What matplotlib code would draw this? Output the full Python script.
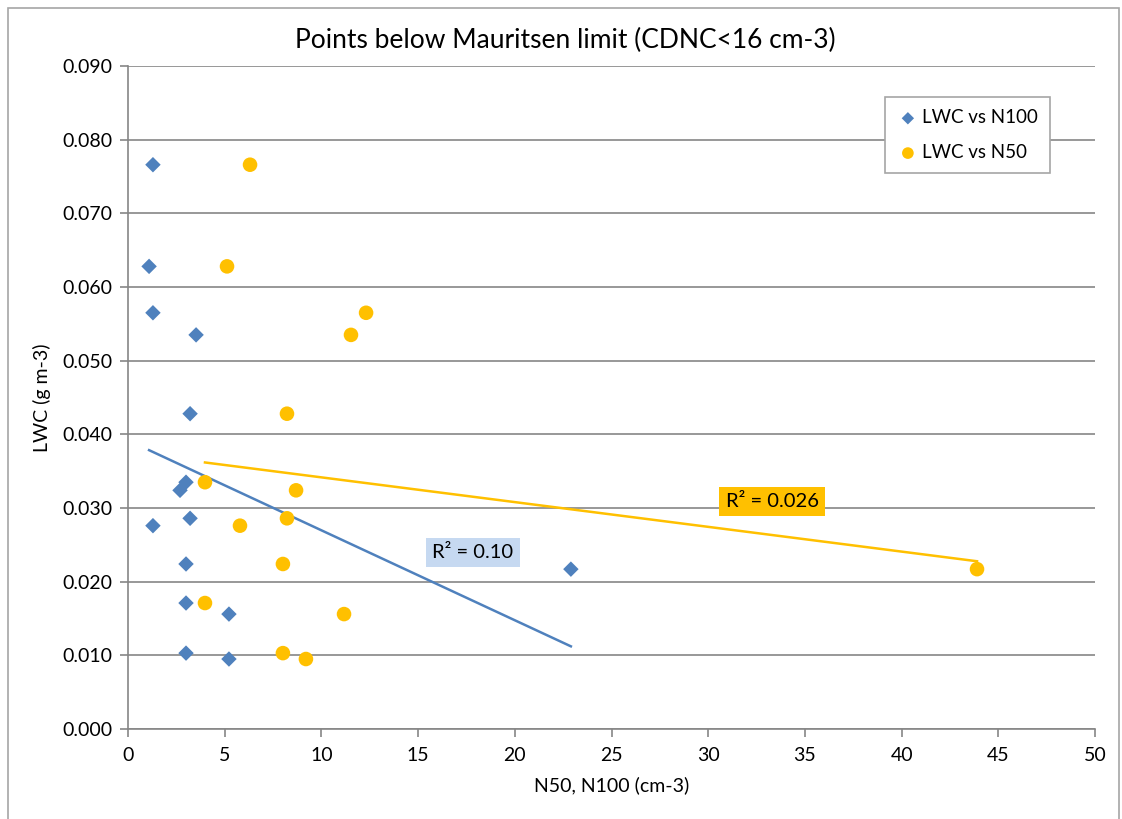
import numpy as np
import matplotlib
matplotlib.use("Agg")
import matplotlib.pyplot as plt
from matplotlib.patches import Rectangle

plt.rcParams['font.family'] = ['Lato', 'DejaVu Sans']

# LWC (g m-3) against aerosol number concentrations (cm-3)
lwc = [0.0766, 0.0628, 0.0565, 0.0535, 0.0428, 0.0335, 0.0324, 0.0286,
       0.0276, 0.0224, 0.0171, 0.0156, 0.0103, 0.0095, 0.0217]
n100 = [1.29, 1.09, 1.29, 3.52, 3.21, 3.00, 2.69, 3.21,
        1.29, 3.00, 3.00, 5.22, 3.00, 5.22, 22.9]
n50 = [6.31, 5.12, 12.31, 11.53, 8.22, 3.98, 8.69, 8.22,
       5.79, 8.01, 3.98, 11.17, 8.01, 9.20, 43.9]

r2_n100 = "0.10"
r2_n50 = "0.026"

BLUE = "#4F81BD"
GOLD = "#FFC000"
GRID = "#868686"

fig = plt.figure(figsize=(11.22, 8.19), dpi=100)
ax = fig.add_axes([128 / 1122, 1 - 729 / 819, (1095 - 128) / 1122, (729 - 66) / 819])

# chart frame
fig.patches.append(Rectangle((8 / 1122, -0.01), (1119 - 8) / 1122, 1 - 8 / 819 + 0.01,
                             transform=fig.transFigure, fill=False,
                             edgecolor="#A6A6A6", linewidth=1.2, zorder=0))

ax.scatter(n100, lwc, marker="D", s=62, color=BLUE, edgecolors="none",
           zorder=3, label="LWC vs N100")
ax.scatter(n50, lwc, marker="o", s=110, color=GOLD, edgecolors="none",
           zorder=3, label="LWC vs N50")

# least-squares trendlines spanning each series
for xs, col in ((n100, BLUE), (n50, GOLD)):
    xs = np.asarray(xs)
    k, b = np.polyfit(xs, lwc, 1)
    xx = np.array([xs.min(), xs.max()])
    ax.plot(xx, k * xx + b, color=col, linewidth=1.8, zorder=2)

ax.text(17.84, 0.0239, "R\u00b2 = " + r2_n100, fontsize=14.5, ha="center", va="center",
        bbox=dict(boxstyle="square,pad=0.3", facecolor="#C6D9F1", edgecolor="none"), zorder=4)
ax.text(33.3, 0.0309, "R\u00b2 = " + r2_n50, fontsize=14.5, ha="center", va="center",
        bbox=dict(boxstyle="square,pad=0.3", facecolor=GOLD, edgecolor="none"), zorder=4)

ax.set_xlim(0, 50)
ax.set_ylim(0, 0.09)
ax.set_xticks(np.arange(0, 51, 5))
ax.set_yticks(np.arange(0, 0.0901, 0.01))
ax.set_yticklabels([f"{v:.3f}" for v in np.arange(0, 0.0901, 0.01)])
ax.yaxis.grid(True, color=GRID, linewidth=1.2)
ax.set_axisbelow(True)
for s in ("top", "right"):
    ax.spines[s].set_visible(False)
for s in ("left", "bottom"):
    ax.spines[s].set_color(GRID)
    ax.spines[s].set_linewidth(1.2)
ax.tick_params(axis="both", colors=GRID, labelcolor="black", labelsize=14,
               length=6, width=1.2, direction="out")
ax.tick_params(axis="x", pad=7)
ax.tick_params(axis="y", pad=5)

ax.set_xlabel("N50, N100 (cm-3)", fontsize=14, labelpad=9)
ax.set_ylabel("LWC (g m-3)", fontsize=14, labelpad=8)
fig.text(565 / 1122, 1 - 40 / 819, "Points below Mauritsen limit (CDNC<16 cm-3)",
         fontsize=19, ha="center", va="center")

leg = ax.legend(loc="upper right", bbox_to_anchor=(1050 / 1122, 1 - 97 / 819),
                bbox_transform=fig.transFigure, borderaxespad=0, fontsize=13.5,
                frameon=True, fancybox=False, edgecolor="#A6A6A6", framealpha=1,
                handletextpad=0.2, borderpad=0.65, labelspacing=0.95,
                handlelength=1.1, markerscale=0.8)
leg.get_frame().set_linewidth(1.2)

fig.savefig("out.png", dpi=100)
